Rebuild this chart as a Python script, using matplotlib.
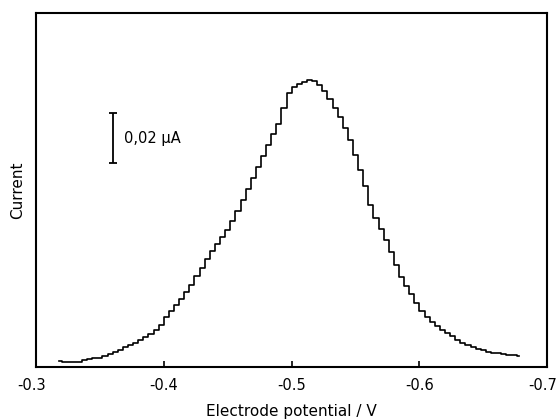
import numpy as np
import matplotlib.pyplot as plt
from matplotlib.transforms import ScaledTranslation

# Staircase voltammogram (4 mV steps)
potential_start = -0.318
potential_step = -0.004
current_uA = [
    0.0024, 0.0022, 0.0020, 0.0020, 0.0022, 0.0028, 0.0034, 0.0036, 0.0038, 0.0046,
    0.0054, 0.0062, 0.0070, 0.0080, 0.0090, 0.0098, 0.0108, 0.0120, 0.0132, 0.0148,
    0.0168, 0.0200, 0.0224, 0.0248, 0.0272, 0.0300, 0.0328, 0.0364, 0.0396, 0.0432,
    0.0464, 0.0492, 0.0520, 0.0548, 0.0584, 0.0624, 0.0668, 0.0712, 0.0756, 0.0800,
    0.0844, 0.0888, 0.0932, 0.0972, 0.1036, 0.1096, 0.1120, 0.1132, 0.1140, 0.1148,
    0.1144, 0.1128, 0.1104, 0.1072, 0.1036, 0.1000, 0.0956, 0.0908, 0.0848, 0.0788,
    0.0724, 0.0648, 0.0596, 0.0552, 0.0508, 0.0460, 0.0408, 0.0360, 0.0324, 0.0292,
    0.0256, 0.0224, 0.0200, 0.0180, 0.0164, 0.0148, 0.0136, 0.0124, 0.0108, 0.0096,
    0.0088, 0.0080, 0.0074, 0.0068, 0.0062, 0.0058, 0.0056, 0.0052, 0.0050, 0.0048,
    0.0046,
]
potential = potential_start + potential_step * np.arange(len(current_uA))

tick_values = [-0.3, -0.4, -0.5, -0.6, -0.7]
tick_labels = ["-0.3", "-0.4", "-0.5", "-0.6", "-0.7"]

fig = plt.figure(figsize=(5.57, 4.2), dpi=100)
ax = fig.add_axes([0.0646, 0.126, 0.918, 0.843])

ax.step(potential, current_uA, where="mid", color="black", lw=1.2)

# scale bar
ax.errorbar([-0.3602], [0.0916], yerr=[0.01], color="black", lw=1.3,
            capsize=3, capthick=1.3)
ax.text(-0.3688, 0.0916, "0,02 \u00b5A", fontsize=10.5, va="center", ha="left")

ax.set_xlim(-0.3, -0.7)
ax.set_ylim(0, 0.1416)
ax.set_xticks(tick_values)
ax.set_xticklabels(tick_labels, fontsize=10.5)
ax.set_yticks([])
ax.tick_params(axis="x", direction="in", length=4, width=1.2, pad=8)
for s in ax.spines.values():
    s.set_linewidth(1.5)

# nudge the end labels so they stay inside the figure
lbls = ax.get_xticklabels()
lbls[0].set_transform(lbls[0].get_transform() + ScaledTranslation(-4 / 100, 0, fig.dpi_scale_trans))
lbls[-1].set_transform(lbls[-1].get_transform() + ScaledTranslation(-5 / 100, 0, fig.dpi_scale_trans))

ax.set_xlabel("Electrode potential / V", fontsize=11, labelpad=8)
ax.set_ylabel("Current", fontsize=11, labelpad=8)

fig.savefig("out.png", dpi=100)
